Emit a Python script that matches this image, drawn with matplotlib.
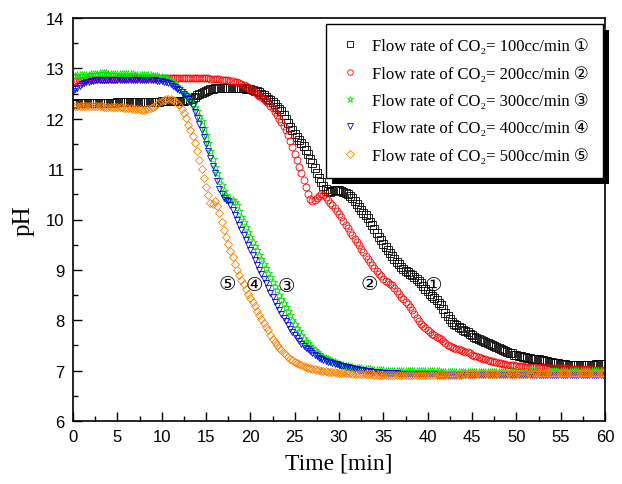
import numpy as np
import matplotlib
matplotlib.use('Agg')
import matplotlib.pyplot as plt
from matplotlib.patches import Rectangle
from matplotlib.transforms import IdentityTransform

# time axis, samples every 0.25 min
t = np.arange(0, 60.25, 0.25)

# pH readings, 100 cc/min
ph_100 = [12.30, 12.30, 12.31, 12.31, 12.31, 12.31, 12.32, 12.32, 12.32, 12.32, 12.32, 12.32, 12.32, 12.32, 12.32, 12.32, 12.32, 12.32, 12.32, 12.32,
          12.33, 12.33, 12.33, 12.33, 12.33, 12.33, 12.33, 12.33, 12.33, 12.33, 12.33, 12.33, 12.34, 12.34, 12.34, 12.34, 12.34, 12.34, 12.34, 12.34,
          12.35, 12.35, 12.35, 12.35, 12.35, 12.35, 12.35, 12.35, 12.35, 12.35, 12.36, 12.37, 12.38, 12.40, 12.42, 12.44, 12.47, 12.50, 12.52, 12.54,
          12.56, 12.58, 12.59, 12.60, 12.61, 12.62, 12.62, 12.62, 12.62, 12.62, 12.62, 12.62, 12.62, 12.62, 12.62, 12.62, 12.61, 12.61, 12.60, 12.60,
          12.59, 12.58, 12.56, 12.55, 12.53, 12.50, 12.47, 12.44, 12.40, 12.37, 12.33, 12.29, 12.24, 12.20, 12.15, 12.08, 12.00, 11.92, 11.84, 11.77,
          11.70, 11.64, 11.58, 11.52, 11.45, 11.38, 11.30, 11.21, 11.12, 11.02, 10.92, 10.83, 10.75, 10.67, 10.60, 10.56, 10.55, 10.56, 10.58, 10.59,
          10.58, 10.57, 10.55, 10.53, 10.50, 10.46, 10.42, 10.36, 10.30, 10.24, 10.18, 10.13, 10.08, 10.02, 9.96, 9.89, 9.82, 9.74, 9.66, 9.59,
          9.52, 9.46, 9.40, 9.34, 9.28, 9.22, 9.16, 9.11, 9.06, 9.02, 8.98, 8.95, 8.92, 8.89, 8.86, 8.82, 8.78, 8.73, 8.68, 8.63,
          8.58, 8.53, 8.48, 8.44, 8.40, 8.35, 8.30, 8.23, 8.15, 8.08, 8.02, 7.97, 7.93, 7.90, 7.87, 7.84, 7.81, 7.78, 7.76, 7.73,
          7.70, 7.67, 7.65, 7.62, 7.60, 7.58, 7.56, 7.54, 7.52, 7.50, 7.48, 7.46, 7.44, 7.42, 7.41, 7.39, 7.37, 7.35, 7.34, 7.32,
          7.31, 7.30, 7.29, 7.28, 7.27, 7.26, 7.25, 7.24, 7.24, 7.23, 7.23, 7.22, 7.21, 7.20, 7.19, 7.18, 7.17, 7.16, 7.16, 7.15,
          7.14, 7.13, 7.13, 7.12, 7.12, 7.12, 7.12, 7.12, 7.12, 7.12, 7.12, 7.12, 7.12, 7.12, 7.12, 7.12, 7.13, 7.13, 7.13, 7.13,
          7.14]

# 200 cc/min
ph_200 = [12.75, 12.75, 12.76, 12.76, 12.77, 12.77, 12.78, 12.78, 12.78, 12.78, 12.78, 12.78, 12.79, 12.79, 12.79, 12.79, 12.79, 12.79, 12.79, 12.79,
          12.80, 12.80, 12.80, 12.80, 12.80, 12.80, 12.80, 12.80, 12.80, 12.80, 12.80, 12.80, 12.80, 12.80, 12.80, 12.80, 12.80, 12.80, 12.80, 12.80,
          12.80, 12.80, 12.80, 12.80, 12.80, 12.80, 12.80, 12.80, 12.80, 12.80, 12.80, 12.80, 12.80, 12.80, 12.80, 12.80, 12.80, 12.80, 12.80, 12.80,
          12.80, 12.80, 12.79, 12.79, 12.79, 12.78, 12.78, 12.77, 12.77, 12.76, 12.76, 12.75, 12.74, 12.73, 12.72, 12.71, 12.69, 12.67, 12.65, 12.63,
          12.60, 12.57, 12.54, 12.50, 12.46, 12.43, 12.40, 12.36, 12.31, 12.26, 12.21, 12.14, 12.07, 12.00, 11.93, 11.86, 11.78, 11.67, 11.55, 11.43,
          11.30, 11.18, 11.05, 10.92, 10.78, 10.64, 10.50, 10.41, 10.36, 10.38, 10.42, 10.47, 10.50, 10.49, 10.45, 10.39, 10.33, 10.28, 10.23, 10.17,
          10.10, 10.04, 9.97, 9.90, 9.83, 9.76, 9.69, 9.62, 9.55, 9.49, 9.42, 9.35, 9.28, 9.21, 9.15, 9.09, 9.03, 8.97, 8.92, 8.87,
          8.82, 8.78, 8.75, 8.72, 8.69, 8.64, 8.58, 8.53, 8.47, 8.42, 8.37, 8.32, 8.27, 8.20, 8.12, 8.05, 7.98, 7.93, 7.88, 7.84,
          7.80, 7.76, 7.73, 7.70, 7.67, 7.65, 7.62, 7.59, 7.55, 7.51, 7.48, 7.46, 7.45, 7.43, 7.42, 7.40, 7.39, 7.37, 7.36, 7.34,
          7.32, 7.30, 7.29, 7.27, 7.26, 7.24, 7.23, 7.21, 7.20, 7.19, 7.18, 7.17, 7.16, 7.15, 7.14, 7.13, 7.12, 7.12, 7.11, 7.11,
          7.10, 7.10, 7.09, 7.09, 7.08, 7.08, 7.08, 7.08, 7.08, 7.07, 7.07, 7.07, 7.07, 7.06, 7.06, 7.06, 7.06, 7.06, 7.06, 7.05,
          7.05, 7.05, 7.05, 7.04, 7.04, 7.04, 7.04, 7.04, 7.04, 7.03, 7.03, 7.03, 7.03, 7.03, 7.03, 7.02, 7.02, 7.02, 7.02, 7.02,
          7.02]

# 300 cc/min
ph_300 = [12.85, 12.85, 12.86, 12.86, 12.86, 12.86, 12.87, 12.87, 12.88, 12.88, 12.89, 12.89, 12.90, 12.90, 12.90, 12.90, 12.89, 12.89, 12.89, 12.89,
          12.89, 12.89, 12.88, 12.88, 12.88, 12.88, 12.88, 12.88, 12.87, 12.87, 12.87, 12.87, 12.86, 12.86, 12.86, 12.86, 12.85, 12.85, 12.84, 12.83,
          12.82, 12.81, 12.80, 12.78, 12.76, 12.73, 12.70, 12.66, 12.62, 12.57, 12.52, 12.47, 12.42, 12.36, 12.30, 12.23, 12.15, 12.05, 11.95, 11.82,
          11.68, 11.52, 11.35, 11.20, 11.05, 10.92, 10.80, 10.68, 10.57, 10.48, 10.40, 10.38, 10.39, 10.35, 10.28, 10.17, 10.05, 9.95, 9.85, 9.75,
          9.65, 9.56, 9.48, 9.39, 9.30, 9.21, 9.12, 9.03, 8.94, 8.85, 8.76, 8.68, 8.60, 8.51, 8.42, 8.34, 8.26, 8.18, 8.10, 8.01,
          7.93, 7.85, 7.78, 7.71, 7.65, 7.59, 7.54, 7.49, 7.45, 7.41, 7.37, 7.33, 7.30, 7.27, 7.25, 7.23, 7.21, 7.19, 7.17, 7.15,
          7.14, 7.12, 7.11, 7.10, 7.09, 7.08, 7.07, 7.06, 7.06, 7.05, 7.05, 7.04, 7.04, 7.03, 7.03, 7.02, 7.02, 7.01, 7.01, 7.01,
          7.01, 7.00, 7.00, 7.00, 7.00, 7.00, 7.00, 7.00, 6.99, 6.99, 6.99, 6.99, 6.99, 6.99, 6.99, 6.99, 6.99, 6.99, 6.99, 6.99,
          6.99, 6.99, 6.99, 6.99, 6.99, 6.99, 6.98, 6.98, 6.98, 6.98, 6.98, 6.98, 6.98, 6.98, 6.98, 6.98, 6.98, 6.98, 6.98, 6.98,
          6.98, 6.98, 6.98, 6.98, 6.98, 6.98, 6.98, 6.98, 6.98, 6.98, 6.98, 6.98, 6.98, 6.98, 6.98, 6.98, 6.98, 6.98, 6.98, 6.98,
          6.98, 6.98, 6.98, 6.98, 6.98, 6.98, 6.98, 6.98, 6.98, 6.98, 6.98, 6.98, 6.98, 6.98, 6.98, 6.98, 6.99, 6.99, 6.99, 6.99,
          6.99, 6.99, 6.99, 6.99, 6.99, 6.99, 6.99, 6.99, 6.99, 6.99, 6.99, 6.99, 6.99, 6.99, 6.99, 6.99, 6.99, 6.99, 6.99, 6.99,
          6.99]

# 400 cc/min
ph_400 = [12.55, 12.59, 12.62, 12.65, 12.68, 12.70, 12.72, 12.73, 12.74, 12.75, 12.76, 12.76, 12.77, 12.77, 12.77, 12.77, 12.77, 12.77, 12.77, 12.77,
          12.77, 12.77, 12.77, 12.77, 12.77, 12.77, 12.77, 12.77, 12.77, 12.77, 12.77, 12.77, 12.77, 12.77, 12.76, 12.76, 12.76, 12.76, 12.75, 12.75,
          12.74, 12.73, 12.72, 12.70, 12.68, 12.66, 12.63, 12.60, 12.57, 12.53, 12.49, 12.45, 12.40, 12.33, 12.25, 12.14, 12.02, 11.90, 11.78, 11.64,
          11.50, 11.36, 11.22, 11.07, 10.92, 10.76, 10.60, 10.50, 10.42, 10.38, 10.36, 10.28, 10.18, 10.09, 10.00, 9.90, 9.80, 9.70, 9.60, 9.50,
          9.40, 9.30, 9.20, 9.10, 9.00, 8.91, 8.82, 8.73, 8.64, 8.55, 8.46, 8.37, 8.29, 8.21, 8.13, 8.05, 7.98, 7.90, 7.83, 7.76,
          7.70, 7.64, 7.58, 7.53, 7.49, 7.45, 7.42, 7.38, 7.35, 7.32, 7.29, 7.26, 7.24, 7.22, 7.20, 7.18, 7.17, 7.15, 7.14, 7.13,
          7.12, 7.10, 7.09, 7.08, 7.07, 7.06, 7.05, 7.04, 7.03, 7.02, 7.02, 7.01, 7.00, 6.99, 6.99, 6.98, 6.98, 6.97, 6.97, 6.96,
          6.96, 6.96, 6.96, 6.95, 6.95, 6.95, 6.95, 6.94, 6.94, 6.94, 6.94, 6.94, 6.94, 6.93, 6.93, 6.93, 6.93, 6.93, 6.93, 6.93,
          6.93, 6.93, 6.93, 6.93, 6.92, 6.92, 6.92, 6.92, 6.92, 6.92, 6.92, 6.92, 6.92, 6.92, 6.92, 6.92, 6.92, 6.92, 6.92, 6.92,
          6.92, 6.92, 6.91, 6.91, 6.91, 6.91, 6.91, 6.91, 6.91, 6.91, 6.91, 6.91, 6.91, 6.91, 6.91, 6.91, 6.91, 6.91, 6.91, 6.91,
          6.91, 6.91, 6.91, 6.91, 6.91, 6.91, 6.91, 6.91, 6.91, 6.91, 6.91, 6.91, 6.91, 6.91, 6.91, 6.91, 6.91, 6.91, 6.91, 6.91,
          6.91, 6.91, 6.91, 6.91, 6.91, 6.91, 6.91, 6.91, 6.91, 6.91, 6.91, 6.91, 6.92, 6.92, 6.92, 6.92, 6.92, 6.92, 6.92, 6.92,
          6.92]

# 500 cc/min
ph_500 = [12.25, 12.25, 12.25, 12.25, 12.25, 12.25, 12.25, 12.25, 12.25, 12.25, 12.25, 12.25, 12.25, 12.25, 12.24, 12.24, 12.24, 12.24, 12.24, 12.24,
          12.23, 12.23, 12.23, 12.22, 12.22, 12.21, 12.21, 12.20, 12.20, 12.19, 12.19, 12.18, 12.18, 12.19, 12.20, 12.21, 12.23, 12.26, 12.30, 12.33,
          12.35, 12.37, 12.39, 12.40, 12.39, 12.37, 12.35, 12.31, 12.27, 12.20, 12.12, 12.01, 11.88, 11.77, 11.65, 11.51, 11.36, 11.18, 11.00, 10.83,
          10.65, 10.48, 10.33, 10.30, 10.36, 10.26, 10.12, 9.96, 9.80, 9.66, 9.52, 9.38, 9.25, 9.12, 9.00, 8.90, 8.80, 8.71, 8.62, 8.53,
          8.45, 8.37, 8.28, 8.19, 8.10, 8.02, 7.95, 7.87, 7.80, 7.71, 7.63, 7.56, 7.50, 7.45, 7.40, 7.35, 7.31, 7.27, 7.24, 7.21,
          7.18, 7.15, 7.13, 7.11, 7.09, 7.07, 7.06, 7.05, 7.04, 7.03, 7.02, 7.01, 7.00, 6.99, 6.99, 6.98, 6.98, 6.97, 6.97, 6.96,
          6.96, 6.96, 6.95, 6.95, 6.95, 6.95, 6.94, 6.94, 6.94, 6.94, 6.93, 6.93, 6.93, 6.93, 6.93, 6.93, 6.92, 6.92, 6.92, 6.92,
          6.92, 6.92, 6.92, 6.92, 6.91, 6.91, 6.91, 6.91, 6.91, 6.91, 6.91, 6.91, 6.91, 6.91, 6.91, 6.91, 6.91, 6.91, 6.91, 6.91,
          6.91, 6.91, 6.91, 6.91, 6.92, 6.92, 6.92, 6.92, 6.92, 6.92, 6.92, 6.92, 6.92, 6.92, 6.92, 6.92, 6.93, 6.93, 6.93, 6.93,
          6.93, 6.93, 6.93, 6.93, 6.93, 6.93, 6.93, 6.93, 6.93, 6.93, 6.93, 6.93, 6.94, 6.94, 6.94, 6.94, 6.94, 6.94, 6.94, 6.94,
          6.94, 6.94, 6.94, 6.94, 6.94, 6.94, 6.94, 6.94, 6.95, 6.95, 6.95, 6.95, 6.95, 6.95, 6.95, 6.95, 6.95, 6.95, 6.95, 6.95,
          6.95, 6.95, 6.95, 6.95, 6.95, 6.95, 6.95, 6.95, 6.96, 6.96, 6.96, 6.96, 6.96, 6.96, 6.96, 6.96, 6.96, 6.96, 6.96, 6.96,
          6.96]

series = [ph_100, ph_200, ph_300, ph_400, ph_500]
rates = ['100', '200', '300', '400', '500']
circled = ['\u2460', '\u2461', '\u2462', '\u2463', '\u2464']
colors = ['#000000', '#ff0000', '#00e600', '#0000ff', '#ff8000']
markers = ['s', 'o', '*', 'v', 'D']
msizes = [5.5, 5, 6, 5, 4.5]

# where the circled numbers sit next to the curves
label_t = [40.6, 33.4, 24.0, 20.5, 17.4]
label_ph = [8.70, 8.72, 8.68, 8.70, 8.72]

fig = plt.figure(figsize=(6.22, 4.85), dpi=100)
ax = fig.add_axes([73 / 622, 63 / 485, 532 / 622, 403 / 485])

for ph, r, c, mk, ms, num in zip(series, rates, colors, markers, msizes, circled):
    ax.plot(t, ph, linestyle='none', marker=mk, markersize=ms,
            markerfacecolor='none', markeredgecolor=c, markeredgewidth=0.6,
            label='Flow rate of CO\u2082= %scc/min %s' % (r, num))

for x, y, num in zip(label_t, label_ph, circled):
    ax.text(x, y, num, fontsize=14, ha='center', va='center',
            family=['DejaVu Sans'])

ax.set_xlim(0, 60)
ax.set_ylim(6, 14)
ax.set_xticks(np.arange(0, 61, 5))
ax.set_xticks(np.arange(0, 61, 2.5), minor=True)
ax.set_yticks(np.arange(6, 15, 1))
ax.set_yticks(np.arange(6, 14.1, 0.5), minor=True)
ax.tick_params(which='both', direction='in', width=1.0)
ax.tick_params(which='major', length=6.5, pad=6, labelsize=12)
ax.tick_params(which='minor', length=3.5)
for lab in ax.get_xticklabels() + ax.get_yticklabels():
    lab.set_family('Liberation Sans')
for sp in ax.spines.values():
    sp.set_linewidth(1.2)

ax.set_xlabel('Time [min]', family='Liberation Serif', fontsize=17, labelpad=6)
ax.set_ylabel('pH', family='Liberation Serif', fontsize=18, labelpad=8)

leg = ax.legend(loc='upper right', bbox_to_anchor=(0.9962, 0.985),
                borderaxespad=0, fancybox=False, framealpha=1,
                edgecolor='black', markerscale=0.8, handlelength=1.1,
                handletextpad=0.8, labelspacing=0.68, borderpad=0.85,
                prop={'family': ['Liberation Serif', 'DejaVu Sans'], 'size': 12})
leg.get_frame().set_linewidth(1.0)
leg.set_zorder(6)

# black drop shadow behind the legend box
fig.canvas.draw()
bb = leg.get_window_extent()
shadow = Rectangle((bb.x0 + 6, bb.y0 - 6), bb.width, bb.height,
                   transform=IdentityTransform(), facecolor='black',
                   edgecolor='none', zorder=5.9, clip_on=False)
ax.add_artist(shadow)

fig.savefig('out.png', dpi=100)
